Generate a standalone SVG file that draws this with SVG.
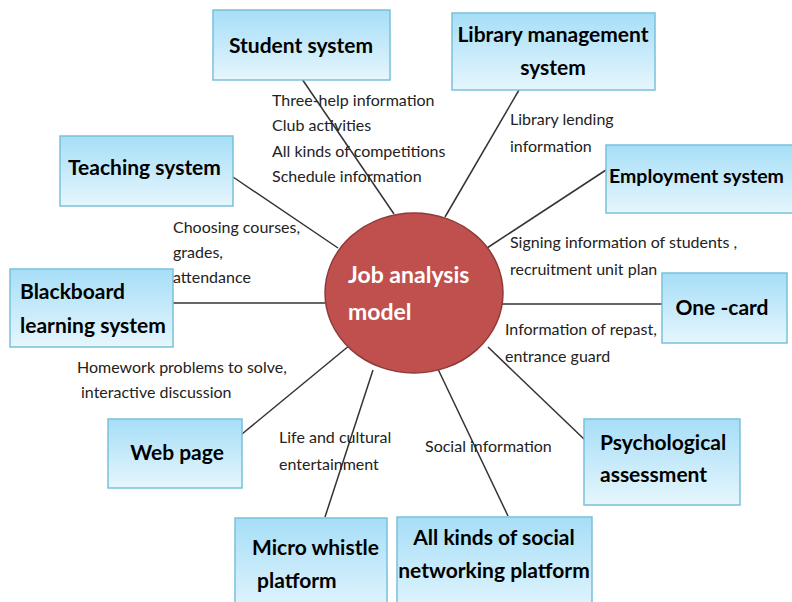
<svg xmlns="http://www.w3.org/2000/svg" width="792" height="602" viewBox="0 0 792 602">
<defs>
<linearGradient id="bg" x1="0" y1="0" x2="0" y2="1">
<stop offset="0" stop-color="#a6def7"/>
<stop offset="1" stop-color="#e6f6fd"/>
</linearGradient>
<style>
.box{fill:url(#bg);stroke:#79c1da;stroke-width:1.5}
.t{font-family:Lato,"Open Sans",sans-serif;font-weight:bold;font-size:21px;fill:#000}
.l{font-family:Lato,"Open Sans",sans-serif;font-size:16px;fill:#222}
.c line{stroke:#333;stroke-width:1.5}
.ct{font-family:Lato,"Open Sans",sans-serif;font-weight:bold;font-size:23px;fill:#fff}
</style>
</defs>
<rect width="792" height="602" fill="#fff"/>
<g class="c" id="connectors">
<line x1="302" y1="79" x2="394" y2="214"/>
<line x1="519" y1="90" x2="445" y2="217"/>
<line x1="233" y1="177" x2="338" y2="248"/>
<line x1="606" y1="170" x2="487" y2="248"/>
<line x1="173" y1="303" x2="325" y2="303"/>
<line x1="502" y1="304" x2="662" y2="304"/>
<line x1="242" y1="434" x2="350" y2="345"/>
<line x1="488" y1="347" x2="585" y2="440"/>
<line x1="373" y1="370" x2="325" y2="517"/>
<line x1="437" y1="367" x2="508" y2="516"/>
</g>
<g id="center">
<ellipse cx="414" cy="293" rx="89" ry="80" fill="#c0504d" stroke="#8f3b39" stroke-width="1.5"/>
<text class="ct" x="348" y="283">Job analysis</text>
<text class="ct" x="348" y="320">model</text>
</g>
<g id="student"><rect class="box" x="213" y="10" width="177" height="70"/><text class="t" x="301" y="53" text-anchor="middle">Student system</text></g>
<g id="library"><rect class="box" x="452" y="13" width="203" height="77"/><text class="t" x="553" y="42" text-anchor="middle">Library management</text><text class="t" x="553" y="75" text-anchor="middle">system</text></g>
<g id="teaching"><rect class="box" x="60" y="136" width="173" height="70"/><text class="t" x="68" y="175">Teaching system</text></g>
<g id="employment"><rect class="box" x="606" y="145" width="200" height="68"/><text class="t" x="609" y="183" style="font-size:19.5px">Employment system</text></g>
<g id="blackboard"><rect class="box" x="10" y="269" width="163" height="78"/><text class="t" x="20" y="299">Blackboard</text><text class="t" x="20" y="333">learning system</text></g>
<g id="onecard"><rect class="box" x="662" y="273" width="125" height="70"/><text class="t" x="722" y="315" text-anchor="middle">One -card</text></g>
<g id="webpage"><rect class="box" x="108" y="419" width="134" height="69"/><text class="t" x="177" y="460" text-anchor="middle">Web page</text></g>
<g id="psych"><rect class="box" x="584" y="419" width="156" height="86"/><text class="t" x="600" y="450">Psychological</text><text class="t" x="600" y="482">assessment</text></g>
<g id="micro"><rect class="box" x="235" y="518" width="152" height="100"/><text class="t" x="252" y="555">Micro whistle</text><text class="t" x="257" y="588">platform</text></g>
<g id="social"><rect class="box" x="397" y="517" width="195" height="100"/><text class="t" x="494" y="545" text-anchor="middle">All kinds of social</text><text class="t" x="494" y="578" text-anchor="middle">networking platform</text></g>
<g id="labels">
<text class="l" x="272" y="106">Three-help information</text>
<text class="l" x="272" y="131">Club activities</text>
<text class="l" x="272" y="157">All kinds of competitions</text>
<text class="l" x="272" y="182">Schedule information</text>
<text class="l" x="510" y="125">Library lending</text>
<text class="l" x="510" y="152">information</text>
<text class="l" x="173" y="233">Choosing courses,</text>
<text class="l" x="173" y="258">grades,</text>
<text class="l" x="173" y="283">attendance</text>
<text class="l" x="510" y="248">Signing information of students ,</text>
<text class="l" x="510" y="275">recruitment unit plan</text>
<text class="l" x="505" y="335">Information of repast,</text>
<text class="l" x="505" y="362">entrance guard</text>
<text class="l" x="77" y="373">Homework problems to solve,</text>
<text class="l" x="81" y="398">interactive discussion</text>
<text class="l" x="279" y="443">Life and cultural</text>
<text class="l" x="279" y="470">entertainment</text>
<text class="l" x="425" y="452">Social information</text>
</g>
</svg>
